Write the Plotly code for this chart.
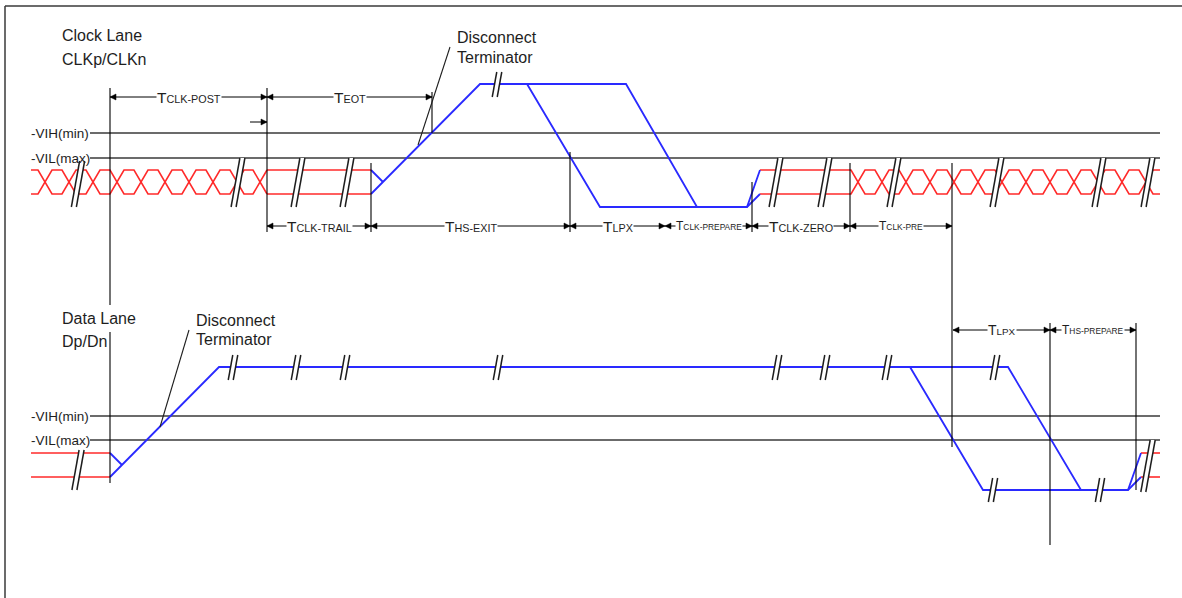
import plotly.graph_objects as go

W, H = 1182, 598
FONT = "Liberation Sans, Arial, sans-serif"
RED = "#ff2a2a"
BLUE = "#2a2aff"
INK = "#1e1e1e"
GRID = "#3a3a3a"

# ---------------- data ----------------
# threshold lines (labels, level, horizontal span)
thr_labels = ["-VIH(min)", "-VIL(max)", "-VIH(min)", "-VIL(max)"]
thr_levels = [133, 158, 416, 440]
thr_span = [90, 1160]

# signal levels
CLK_HI, CLK_LO, CLK_LP1, CLK_LP0 = 170, 194, 84, 207
DAT_HI, DAT_LO, DAT_LP1, DAT_LP0 = 453, 477, 367, 490

# HS clock toggling windows and their crossing instants
clk_toggle_spans = [(31, 267), (850, 1160)]
clk_crossings = [
    [45, 69, 93, 117, 141, 165, 189, 213, 237, 260],
    [858, 882, 906, 930, 954, 978, 1002, 1026, 1050, 1074, 1098, 1122, 1146],
]
CROSS_HALF = 7

# HS static (differential pair flat) windows
clk_hs_flat = [(267, 371), (760, 850)]
dat_hs_flat = [(31, 110), (1141, 1160)]

# LP (single-ended) waveforms: lists of times and levels
clk_lp_t = [[371, 383], [371, 480, 527, 600, 747, 760], [527, 626, 697], [747, 760]]
clk_lp_v = [[CLK_HI, 182], [CLK_LO, CLK_LP1, CLK_LP1, CLK_LP0, CLK_LP0, CLK_HI],
            [CLK_LP1, CLK_LP1, CLK_LP0], [CLK_LP0, CLK_LO]]
dat_lp_t = [[110, 122], [110, 219, 910, 983, 1128, 1141], [910, 1008, 1081], [1128, 1141]]
dat_lp_v = [[DAT_HI, 465], [DAT_LO, DAT_LP1, DAT_LP1, DAT_LP0, DAT_LP0, DAT_HI],
            [DAT_LP1, DAT_LP1, DAT_LP0], [DAT_LP0, DAT_LO]]

# break ("//") marks: x positions and vertical extent
breaks = [
    ([78], 161, 207),
    ([238, 298, 347, 776, 825, 894, 997, 1099, 1148], 158, 207),
    ([497], 72, 97),
    ([78], 450, 490),
    ([1148], 440, 492),
    ([233, 296, 345, 498, 777, 825, 887, 995], 355, 380),
    ([993, 1100], 478, 502),
]

# vertical timing markers: x, top, bottom
mark_x = [110, 110, 267, 371, 432, 570, 752, 850, 952, 1050, 1136]
mark_y0 = [88, 332, 88, 163, 92, 152, 182, 163, 163, 323, 323]
mark_y1 = [305, 483, 232, 232, 133, 232, 232, 232, 447, 545, 490]

# dimension arrows: subscript, start, end, row y, font size of "T"
dim_sub = ["CLK-POST", "EOT", "CLK-TRAIL", "HS-EXIT", "LPX", "CLK-PREPARE",
           "CLK-ZERO", "CLK-PRE", "LPX", "HS-PREPARE"]
dim_x0 = [110, 267, 267, 371, 570, 665, 752, 850, 953, 1050]
dim_x1 = [267, 432, 371, 570, 665, 752, 850, 952, 1050, 1136]
dim_y = [97, 97, 226, 226, 226, 226, 226, 226, 330, 330]
dim_size = [15.5, 15.5, 15.5, 15.5, 15.5, 12, 15.5, 12, 14, 12]

# leader lines for "Disconnect Terminator"
leader_x = [[450, 418], [189, 160]]
leader_y = [[47, 145], [330, 427]]

# free text
txt = ["Clock Lane", "CLKp/CLKn", "Disconnect", "Terminator",
       "Data Lane", "Dp/Dn", "Disconnect", "Terminator"]
txt_x = [60, 60, 455, 455, 60, 60, 194, 194]
txt_y = [35, 59, 37, 57, 318, 341, 320, 339]

# ---------------- build ----------------
fig = go.Figure()


def add_line(xs, ys, color, width, fill=None, fillcolor=None):
    fig.add_trace(go.Scatter(x=xs, y=ys, mode="lines",
                             line=dict(color=color, width=width),
                             fill=fill, fillcolor=fillcolor,
                             hoverinfo="skip", showlegend=False))


def join(segs):
    xs, ys = [], []
    for sx, sy in segs:
        xs += list(sx) + [None]
        ys += list(sy) + [None]
    return xs, ys


# frame
add_line([5, 5, None, 5, W], [H, 6, None, 6, 6], GRID, 1.5)

# threshold lines
segs = [(thr_span, [lv, lv]) for lv in thr_levels]
add_line(*join(segs), GRID, 1.4)

# HS toggling clock
segs = []
for (x0, x1), cross in zip(clk_toggle_spans, clk_crossings):
    for start in (CLK_HI, CLK_LO):
        lv = start
        other = CLK_LO if start == CLK_HI else CLK_HI
        xs, ys = [x0], [lv]
        for c in cross:
            xs += [c - CROSS_HALF, c + CROSS_HALF]
            ys += [lv, other]
            lv, other = other, lv
        xs.append(x1)
        ys.append(lv)
        segs.append((xs, ys))
for x0, x1 in clk_hs_flat:
    segs.append(([x0, x1], [CLK_HI, CLK_HI]))
    segs.append(([x0, x1], [CLK_LO, CLK_LO]))
for x0, x1 in dat_hs_flat:
    segs.append(([x0, x1], [DAT_HI, DAT_HI]))
    segs.append(([x0, x1], [DAT_LO, DAT_LO]))
add_line(*join(segs), RED, 1.6)

# LP waveforms
segs = list(zip(clk_lp_t, clk_lp_v)) + list(zip(dat_lp_t, dat_lp_v))
add_line(*join(segs), BLUE, 1.8)

# break marks
GAP = 5
polys, slashes = [], []
for xs_b, yt, yb in breaks:
    sh = 0.18 * (yb - yt)
    for xb in xs_b:
        a = xb - GAP / 2
        b = xb + GAP / 2
        polys.append(([a + sh / 2, b + sh / 2, b - sh / 2, a - sh / 2, a + sh / 2],
                      [yt, yt, yb, yb, yt]))
        slashes.append(([a + sh / 2, a - sh / 2], [yt, yb]))
        slashes.append(([b + sh / 2, b - sh / 2], [yt, yb]))
add_line(*join(polys), "rgba(255,255,255,0)", 0, fill="toself", fillcolor="white")
add_line(*join(slashes), INK, 1.5)

# vertical markers
segs = [([x, x], [a, b]) for x, a, b in zip(mark_x, mark_y0, mark_y1)]
add_line(*join(segs), "#000000", 1.1)

# leader lines
add_line(*join(zip(leader_x, leader_y)), INK, 1.1)

# dimension arrows
AL, AW = 6, 3
segs, heads = [], []
for x0, x1, y in zip(dim_x0, dim_x1, dim_y):
    segs.append(([x0, x1], [y, y]))
    heads.append(([x0, x0 + AL, x0 + AL, x0], [y, y - AW, y + AW, y]))
    heads.append(([x1, x1 - AL, x1 - AL, x1], [y, y - AW, y + AW, y]))
# small pointer arrow toward the TCLK-POST / TEOT boundary
segs.append(([250, 267], [122, 122]))
heads.append(([267, 267 - AL, 267 - AL, 267], [122, 122 - AW, 122 + AW, 122]))
add_line(*join(segs), "#000000", 1.0)
add_line(*join(heads), "#000000", 0.5, fill="toself", fillcolor="#000000")

annotations = []
for sub, x0, x1, y, fs in zip(dim_sub, dim_x0, dim_x1, dim_y, dim_size):
    annotations.append(dict(
        x=(x0 + x1) / 2, y=y, xref="x", yref="y", showarrow=False,
        text=f"T<span style='font-size:{fs * 0.7:.1f}px'>{sub}</span>",
        font=dict(family=FONT, size=fs, color=INK),
        bgcolor="white", borderpad=0, xanchor="center", yanchor="middle"))

for t, x, y in zip(txt, txt_x, txt_y):
    annotations.append(dict(x=x, y=y, xref="x", yref="y", showarrow=False, text=t,
                            font=dict(family=FONT, size=16, color=INK),
                            xanchor="left", yanchor="middle"))

for t, lv in zip(thr_labels, thr_levels):
    annotations.append(dict(x=29, y=lv, xref="x", yref="y", showarrow=False, text=t,
                            font=dict(family=FONT, size=13.5, color=INK),
                            xanchor="left", yanchor="middle"))

fig.update_layout(
    width=W, height=H, autosize=False,
    margin=dict(l=0, r=0, t=0, b=0, pad=0),
    paper_bgcolor="white", plot_bgcolor="white",
    xaxis=dict(range=[0, W], visible=False, fixedrange=True),
    yaxis=dict(range=[H, 0], visible=False, fixedrange=True),
    annotations=annotations,
    showlegend=False,
)

fig.write_html("out.html", config={"displayModeBar": False},
               post_script="document.body.style.margin='0';")
